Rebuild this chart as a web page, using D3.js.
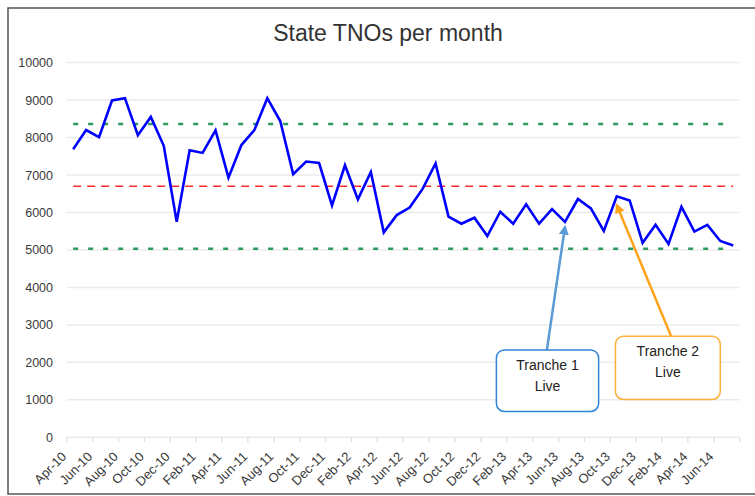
<!DOCTYPE html>
<html>
<head>
<meta charset="utf-8">
<script src="https://cdn.jsdelivr.net/npm/d3@7"></script>
<style>
  body { margin: 0; background: #fff; }
  svg { display: block; font-family: "Liberation Sans", Arial, sans-serif; }
</style>
</head>
<body>
<svg id="chart" width="755" height="496"></svg>
<script>
var months = ["Apr-10","May-10","Jun-10","Jul-10","Aug-10","Sep-10","Oct-10","Nov-10","Dec-10","Jan-11","Feb-11","Mar-11",
  "Apr-11","May-11","Jun-11","Jul-11","Aug-11","Sep-11","Oct-11","Nov-11","Dec-11","Jan-12","Feb-12","Mar-12",
  "Apr-12","May-12","Jun-12","Jul-12","Aug-12","Sep-12","Oct-12","Nov-12","Dec-12","Jan-13","Feb-13","Mar-13",
  "Apr-13","May-13","Jun-13","Jul-13","Aug-13","Sep-13","Oct-13","Nov-13","Dec-13","Jan-14","Feb-14","Mar-14",
  "Apr-14","May-14","Jun-14","Jul-14"];
var tnos = [7690,8200,8010,8990,9050,8060,8550,7780,5750,7660,7590,8190,
  6930,7800,8200,9050,8440,7020,7360,7320,6190,7260,6350,7080,
  5470,5930,6130,6630,7310,5890,5700,5860,5370,6020,5700,6220,
  5700,6090,5750,6360,6110,5510,6430,6320,5190,5670,5160,6150,
  5490,5670,5240,5120];
var tickLabels = ["Apr-10","Jun-10","Aug-10","Oct-10","Dec-10","Feb-11","Apr-11","Jun-11","Aug-11","Oct-11","Dec-11",
  "Feb-12","Apr-12","Jun-12","Aug-12","Oct-12","Dec-12","Feb-13","Apr-13","Jun-13","Aug-13","Oct-13","Dec-13",
  "Feb-14","Apr-14","Jun-14"];
var yTicks = [0,1000,2000,3000,4000,5000,6000,7000,8000,9000,10000];
var upperLimit = 8360, meanLine = 6700, lowerLimit = 5030;

// annotations: tip at month/value, box given in month index / value space
var notes = [
  {lines: ["Tranche 1","Live"], tipMonth: "Jun-13", tipValue: 5620, baseIdx: 36.6, baseValue: 2330,
   box: [32.7, 40.6, 2330, 690], color: "#5b9bd5", boxColor: "#2f84d8"},
  {lines: ["Tranche 2","Live"], tipMonth: "Oct-13", tipValue: 6200, baseIdx: 46.2, baseValue: 2700,
   box: [41.9, 50.0, 2700, 1010], color: "#ffa31a", boxColor: "#fbb03b"}
];

var svg = d3.select("#chart");
var plotLeft = 66.7, plotRight = 739.7, plotTop = 62.6, plotBottom = 437.3;

var x = d3.scaleBand().domain(months).range([plotLeft, plotRight]).padding(0);
var y = d3.scaleLinear().domain([0, 10000]).range([plotBottom, plotTop]);
var cx = function (m) { return x(m) + x.bandwidth() / 2; };
var xAt = function (i) { return plotLeft + (i + 0.5) * x.step(); };

// frame
svg.append("rect").attr("x", 8).attr("y", 8).attr("width", 770).attr("height", 486)
  .attr("fill", "#fff").attr("stroke", "#555").attr("stroke-width", 1.5);

svg.append("text").attr("x", 388).attr("y", 41).attr("text-anchor", "middle")
  .attr("font-size", 23).attr("fill", "#333").text("State TNOs per month");

// gridlines
svg.append("g").selectAll("line").data(yTicks).enter().append("line")
  .attr("x1", plotLeft).attr("x2", plotRight)
  .attr("y1", function (d) { return y(d); }).attr("y2", function (d) { return y(d); })
  .attr("stroke", "#ebebeb").attr("stroke-width", 1.5);

var yAxis = d3.axisLeft(y).tickValues(yTicks).tickFormat(d3.format("d")).tickSize(0).tickPadding(0);
var gy = svg.append("g").attr("transform", "translate(53,0)").call(yAxis);
gy.select(".domain").remove();
gy.selectAll("text").attr("font-size", 12.5).attr("fill", "#3a3a3a").attr("font-family", "Liberation Sans, Arial, sans-serif");

// x ticks every two months at category edges
var tickIdx = d3.range(0, months.length + 1, 2);
svg.append("g").selectAll("line").data(tickIdx).enter().append("line")
  .attr("x1", function (i) { return plotLeft + i * x.step(); })
  .attr("x2", function (i) { return plotLeft + i * x.step(); })
  .attr("y1", plotBottom).attr("y2", plotBottom + 5)
  .attr("stroke", "#e3e3e3").attr("stroke-width", 1.5);

svg.append("g").selectAll("text").data(tickLabels).enter().append("text")
  .attr("transform", function (d) { return "translate(" + (cx(d) - 6) + "," + (plotBottom + 20) + ") rotate(-45)"; })
  .attr("text-anchor", "end").attr("font-size", 13).attr("fill", "#3a3a3a")
  .text(function (d) { return d; });

// reference lines
var first = cx(months[0]), last = cx(months[months.length - 1]);
[[upperLimit, "#2e9960", "5,10", 2.5], [lowerLimit, "#2e9960", "5,10", 2.5], [meanLine, "#ff2a2a", "8,6", 1.5]]
  .forEach(function (r) {
    svg.append("line").attr("x1", first).attr("x2", last).attr("y1", y(r[0])).attr("y2", y(r[0]))
      .attr("stroke", r[1]).attr("stroke-dasharray", r[2]).attr("stroke-width", r[3]);
  });

var line = d3.line().x(function (d, i) { return cx(months[i]); }).y(function (d) { return y(d); });
svg.append("path").datum(tnos).attr("d", line).attr("fill", "none")
  .attr("stroke", "#0000ff").attr("stroke-width", 2.6).attr("stroke-linejoin", "miter");

// annotations
var defs = svg.append("defs");
notes.forEach(function (n, k) {
  defs.append("marker").attr("id", "arrow" + k).attr("viewBox", "0 -5 10 10")
    .attr("refX", 8).attr("refY", 0).attr("markerWidth", 4).attr("markerHeight", 4)
    .attr("markerUnits", "strokeWidth").attr("orient", "auto")
    .append("path").attr("d", "M0,-5L10,0L0,5Z").attr("fill", n.color);
  svg.append("line")
    .attr("x1", xAt(n.baseIdx)).attr("y1", y(n.baseValue))
    .attr("x2", cx(n.tipMonth)).attr("y2", y(n.tipValue))
    .attr("stroke", n.color).attr("stroke-width", 2.5).attr("marker-end", "url(#arrow" + k + ")");
  var bx0 = xAt(n.box[0]), bx1 = xAt(n.box[1]);
  var by0 = y(n.box[2]), by1 = y(n.box[3]);
  svg.append("rect").attr("x", bx0).attr("y", by0).attr("width", bx1 - bx0).attr("height", by1 - by0)
    .attr("rx", 8).attr("fill", "#fff").attr("stroke", n.boxColor).attr("stroke-width", 1.5);
  n.lines.forEach(function (t, j) {
    svg.append("text").attr("x", (bx0 + bx1) / 2).attr("y", by0 + 20 + j * 21)
      .attr("text-anchor", "middle").attr("font-size", 14).attr("fill", "#222").text(t);
  });
});
</script>
</body>
</html>
